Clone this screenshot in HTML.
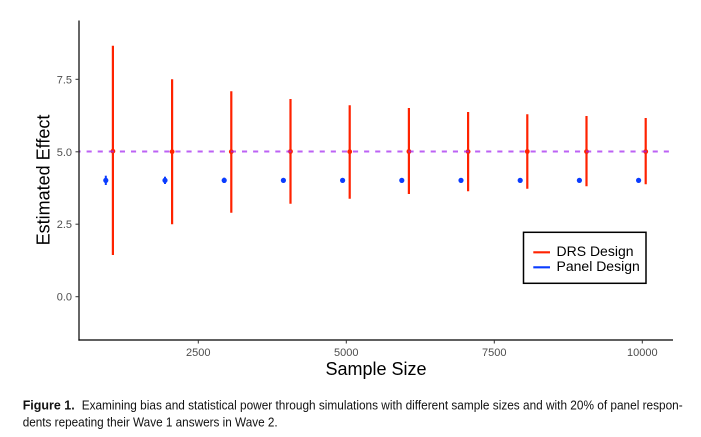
<!DOCTYPE html>
<html>
<head>
<meta charset="utf-8">
<style>
  html,body{margin:0;padding:0;background:#fff;}
  svg{display:block;}
  text{font-family:"Liberation Sans", Arial, sans-serif;}
</style>
</head>
<body>
<svg width="701" height="437" viewBox="0 0 701 437" xmlns="http://www.w3.org/2000/svg">
  <rect x="0" y="0" width="701" height="437" fill="#fff"/>

  <!-- Red DRS error bars -->
  <g stroke="#ff2200" stroke-width="2.2" fill="none">
    <line x1="112.9" y1="45.7" x2="112.9" y2="255"/>
    <line x1="172.1" y1="79.3" x2="172.1" y2="224.3"/>
    <line x1="231.3" y1="91.3" x2="231.3" y2="212.7"/>
    <line x1="290.5" y1="99" x2="290.5" y2="203.7"/>
    <line x1="349.7" y1="105.3" x2="349.7" y2="198.7"/>
    <line x1="408.9" y1="108" x2="408.9" y2="194"/>
    <line x1="468.1" y1="112" x2="468.1" y2="191.3"/>
    <line x1="527.3" y1="114.3" x2="527.3" y2="188.7"/>
    <line x1="586.5" y1="116" x2="586.5" y2="186.3"/>
    <line x1="645.7" y1="118" x2="645.7" y2="184.3"/>
  </g>
  <g fill="#ff2200">
    <circle cx="112.9" cy="151.2" r="2.4"/>
    <circle cx="172.1" cy="151.7" r="2.4"/>
    <circle cx="231.3" cy="151.7" r="2.4"/>
    <circle cx="290.5" cy="151.5" r="2.4"/>
    <circle cx="349.7" cy="151.7" r="2.4"/>
    <circle cx="408.9" cy="151.5" r="2.4"/>
    <circle cx="468.1" cy="151.6" r="2.4"/>
    <circle cx="527.3" cy="151.5" r="2.4"/>
    <circle cx="586.5" cy="151.6" r="2.4"/>
    <circle cx="645.7" cy="151.6" r="2.4"/>
  </g>

  <!-- Blue panel design -->
  <g stroke="#0a3cff" stroke-width="2" fill="none">
    <line x1="105.8" y1="175.7" x2="105.8" y2="185"/>
    <line x1="165" y1="176.7" x2="165" y2="184"/>
    <line x1="224.2" y1="177.7" x2="224.2" y2="183"/>
  </g>
  <g fill="#0a3cff">
    <circle cx="105.8" cy="180.4" r="2.6"/>
    <circle cx="165" cy="180.4" r="2.6"/>
    <circle cx="224.2" cy="180.4" r="2.6"/>
    <circle cx="283.4" cy="180.4" r="2.6"/>
    <circle cx="342.6" cy="180.4" r="2.6"/>
    <circle cx="401.8" cy="180.4" r="2.6"/>
    <circle cx="461" cy="180.4" r="2.6"/>
    <circle cx="520.2" cy="180.4" r="2.6"/>
    <circle cx="579.4" cy="180.4" r="2.6"/>
    <circle cx="638.6" cy="180.4" r="2.6"/>
  </g>

  <!-- dashed reference line -->
  <line x1="79" y1="151.5" x2="673" y2="151.5" stroke="#a020f0" stroke-opacity="0.7" stroke-width="2" stroke-dasharray="5.1 6" stroke-dashoffset="3.5"/>

  <!-- axes -->
  <line x1="79" y1="20.5" x2="79" y2="340.6" stroke="#000" stroke-width="1.2"/>
  <line x1="78.4" y1="340" x2="673" y2="340" stroke="#000" stroke-width="1.2"/>

  <!-- y ticks -->
  <g stroke="#333" stroke-width="1">
    <line x1="75.5" y1="79.3" x2="79" y2="79.3"/>
    <line x1="75.5" y1="151.8" x2="79" y2="151.8"/>
    <line x1="75.5" y1="224.2" x2="79" y2="224.2"/>
    <line x1="75.5" y1="296.7" x2="79" y2="296.7"/>
  </g>
  <g fill="#4d4d4d" font-size="11" text-anchor="end">
    <text x="72" y="83.3">7.5</text>
    <text x="72" y="155.8">5.0</text>
    <text x="72" y="228.2">2.5</text>
    <text x="72" y="300.7">0.0</text>
  </g>

  <!-- x ticks -->
  <g stroke="#333" stroke-width="1">
    <line x1="198.3" y1="340" x2="198.3" y2="343.5"/>
    <line x1="346.3" y1="340" x2="346.3" y2="343.5"/>
    <line x1="494.3" y1="340" x2="494.3" y2="343.5"/>
    <line x1="642.3" y1="340" x2="642.3" y2="343.5"/>
  </g>
  <g fill="#4d4d4d" font-size="11" text-anchor="middle">
    <text x="198.3" y="356">2500</text>
    <text x="346.3" y="356">5000</text>
    <text x="494.3" y="356">7500</text>
    <text x="642.3" y="356">10000</text>
  </g>

  <!-- axis titles -->
  <text x="376" y="375" font-size="18" text-anchor="middle" fill="#000">Sample Size</text>
  <text transform="translate(49.5,180) rotate(-90)" font-size="18" text-anchor="middle" fill="#000">Estimated Effect</text>

  <!-- legend -->
  <rect x="523.5" y="232.3" width="122.5" height="51" fill="#fff" stroke="#000" stroke-width="1.5"/>
  <line x1="533.3" y1="252.3" x2="550" y2="252.3" stroke="#ff2200" stroke-width="2.2"/>
  <line x1="533.3" y1="267.3" x2="550" y2="267.3" stroke="#0a3cff" stroke-width="2.2"/>
  <text x="556.5" y="256.2" font-size="14" fill="#000">DRS Design</text>
  <text x="556.5" y="271.2" font-size="14" fill="#000">Panel Design</text>

  <!-- caption -->
  <text x="22.7" y="409.5" font-size="13" font-weight="bold" fill="#111" textLength="52" lengthAdjust="spacingAndGlyphs">Figure 1.</text>
  <text x="81.7" y="409.5" font-size="13" fill="#111" textLength="601" lengthAdjust="spacingAndGlyphs">Examining bias and statistical power through simulations with different sample sizes and with 20% of panel respon-</text>
  <text x="22.7" y="426.5" font-size="13" fill="#111" textLength="255" lengthAdjust="spacingAndGlyphs">dents repeating their Wave 1 answers in Wave 2.</text>
</svg>
</body>
</html>
